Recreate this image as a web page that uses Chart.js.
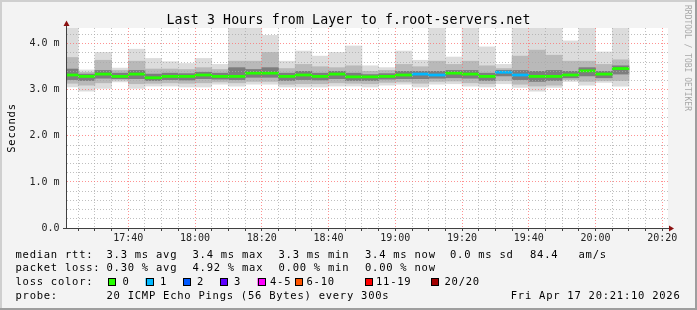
<!DOCTYPE html>
<html>
<head>
<meta charset="utf-8">
<script src="https://cdn.jsdelivr.net/npm/chart.js@4.4.0/dist/chart.umd.min.js"></script>
<style>
  html, body { margin: 0; padding: 0; background: #f3f3f3; }
</style>
</head>
<body>
<canvas id="myChart" width="697" height="310"></canvas>
<script>
// 5 minute bins (start time of each step)
const binTimes = ["17:20","17:25","17:30","17:35","17:40","17:45","17:50","17:55",
  "18:00","18:05","18:10","18:15","18:20","18:25","18:30","18:35","18:40","18:45",
  "18:50","18:55","19:00","19:05","19:10","19:15","19:20","19:25","19:30","19:35",
  "19:40","19:45","19:50","19:55","20:00","20:05"]

// rtt in ms, smoke bands
const rttMax  = [4.34,3.43,3.81,3.47,3.88,3.68,3.61,3.57,3.68,3.55,4.34,4.34,4.18,3.62,3.84,3.73,3.81,
                 3.95,3.52,3.48,3.84,3.64,4.34,3.71,4.34,3.93,3.55,4.34,4.34,4.34,4.06,4.34,3.82,4.34]
const rttHi2  = [3.70,3.38,3.64,3.42,3.62,3.45,3.45,3.44,3.48,3.44,3.62,3.62,3.81,3.46,3.55,3.50,3.48,
                 3.52,3.40,3.42,3.55,3.50,3.62,3.55,3.62,3.52,3.46,3.73,3.86,3.75,3.62,3.62,3.55,3.65]
const rttHi1  = [3.45,3.34,3.42,3.36,3.42,3.34,3.36,3.35,3.38,3.36,3.48,3.44,3.48,3.36,3.40,3.36,3.40,
                 3.36,3.33,3.35,3.40,3.40,3.40,3.42,3.42,3.36,3.42,3.42,3.40,3.42,3.40,3.48,3.40,3.52]
const rttMedian = [3.32,3.29,3.34,3.29,3.34,3.26,3.29,3.29,3.32,3.29,3.29,3.36,3.36,3.29,3.32,3.29,3.34,
                 3.28,3.28,3.29,3.32,3.34,3.32,3.36,3.34,3.29,3.38,3.32,3.29,3.29,3.32,3.41,3.34,3.46]
const rttLo1  = [3.22,3.20,3.25,3.24,3.24,3.20,3.22,3.21,3.24,3.23,3.22,3.27,3.27,3.20,3.22,3.21,3.24,
                 3.20,3.20,3.23,3.24,3.24,3.25,3.26,3.25,3.20,3.30,3.22,3.18,3.20,3.26,3.30,3.26,3.34]
const rttLo2  = [3.14,3.10,3.15,3.21,3.13,3.14,3.15,3.14,3.15,3.17,3.15,3.18,3.18,3.12,3.13,3.13,3.15,
                 3.14,3.13,3.16,3.17,3.14,3.18,3.19,3.15,3.13,3.20,3.12,3.08,3.10,3.22,3.18,3.20,3.20]
const rttMin  = [3.06,2.97,3.03,3.17,3.03,3.08,3.08,3.06,3.06,3.12,3.08,3.12,3.12,3.06,3.06,3.06,3.08,
                 3.08,3.06,3.10,3.12,3.06,3.12,3.13,3.08,3.06,3.13,3.05,2.97,3.05,3.18,3.10,3.16,3.08]
// lost pings per step (of 20)
const lossCount = [0,0,0,0,0,0,0,0,0,0,0,0,0,0,0,0,0,0,0,0,0,1,1,0,0,0,1,1,0,0,0,0,0,0]

const lossLabels = ["0","1","2","3","4-5","6-10","11-19","20/20"]
const lossColors = ["#26ff00","#00b8ff","#0059ff","#5e00ff","#ff00ff","#ff5500","#ff0000","#a10000"]

const xTickLabels = ["17:40","18:00","18:20","18:40","19:00","19:20","19:40","20:00","20:20"]
const yTickLabels = ["0.0","1.0 m","2.0 m","3.0 m","4.0 m"]

const titleText = "Last 3 Hours from Layer to f.root-servers.net"
const rttStats  = ["3.3 ms avg","3.4 ms max","3.3 ms min","3.4 ms now","0.0 ms sd","84.4","am/s"]
const lossStats = ["0.30 % avg","4.92 % max","0.00 % min","0.00 % now"]
const probeText = "20 ICMP Echo Pings (56 Bytes) every 300s"
const stampText = "Fri Apr 17 20:21:10 2026"

// minutes after 17:00
function toMin(t) {
    var p = t.split(":")
    return (parseInt(p[0]) - 17) * 60 + parseInt(p[1])
}

const X_MIN = 21.63, X_MAX = 201.7
const MONO = '"DejaVu Sans Mono", monospace'

function lossIndex(n) {
    if (n <= 3) return n
    if (n <= 5) return 4
    if (n <= 10) return 5
    if (n <= 19) return 6
    return 7
}

function band(lo, hi) {
    return binTimes.map(function (t, i) { return { x: toMin(t) + 2.5, y: [lo[i], hi[i]] } })
}

const medianBars = binTimes.map(function (t, i) {
    return { x: toMin(t) + 2.5, y: [rttMedian[i] - 0.023, rttMedian[i] + 0.023] }
})

const majorGrid = "rgba(255,110,110,0.75)"
const minorGrid = "rgba(170,170,170,0.75)"

const decor = {
    id: "decor",
    beforeDraw(chart) {
        const ctx = chart.ctx, a = chart.chartArea
        ctx.save()
        ctx.fillStyle = "#f3f3f3"; ctx.fillRect(0, 0, 697, 310)
        ctx.fillStyle = "#cfcfcf"; ctx.fillRect(0, 0, 697, 2); ctx.fillRect(0, 0, 2, 310)
        ctx.fillStyle = "#9e9e9e"; ctx.fillRect(0, 308, 697, 2); ctx.fillRect(695, 0, 2, 310)
        ctx.fillStyle = "#ffffff"; ctx.fillRect(a.left, a.top, a.right - a.left, a.bottom - a.top)
        ctx.restore()
    },
    afterDraw(chart) {
        const ctx = chart.ctx, a = chart.chartArea
        ctx.save()
        // axes + arrows
        ctx.strokeStyle = "#404040"; ctx.lineWidth = 1
        ctx.beginPath()
        ctx.moveTo(a.left - 0.5, a.bottom + 1); ctx.lineTo(a.left - 0.5, 24)
        ctx.moveTo(a.left - 4, a.bottom + 0.5); ctx.lineTo(a.right + 4, a.bottom + 0.5)
        ctx.stroke()
        ctx.fillStyle = "#8b1111"
        ctx.beginPath()
        ctx.moveTo(a.left - 0.5, 20.5); ctx.lineTo(a.left - 3.5, 26); ctx.lineTo(a.left + 2.5, 26); ctx.fill()
        ctx.beginPath()
        ctx.moveTo(a.right + 6, a.bottom + 0.5); ctx.lineTo(a.right + 1, a.bottom - 2.5); ctx.lineTo(a.right + 1, a.bottom + 3.5); ctx.fill()

        // title
        ctx.fillStyle = "#000"
        ctx.font = "13.2px " + MONO
        ctx.letterSpacing = "0.15px"
        ctx.textAlign = "center"; ctx.textBaseline = "alphabetic"
        ctx.fillText(titleText, 348.5, 24)

        // legend block
        ctx.font = "10.5px " + MONO
        ctx.letterSpacing = "0.75px"
        ctx.textAlign = "left"
        const rows = [257.5, 271.3, 285, 298.8]
        ctx.fillText("median rtt:", 15.5, rows[0])
        const rttX = [106.5, 192.5, 278.5, 365, 450, 530, 578.5]
        rttStats.forEach(function (s, i) { ctx.fillText(s, rttX[i], rows[0]) })
        ctx.fillText("packet loss:", 15.5, rows[1])
        lossStats.forEach(function (s, i) { ctx.fillText(s, rttX[i], rows[1]) })
        ctx.fillText("loss color:", 15.5, rows[2])
        const boxX = [108, 145.5, 183, 220, 257.5, 295, 365, 431]
        const labX = [122.5, 160, 197, 234, 270, 306.5, 376, 444.5]
        lossLabels.forEach(function (s, i) {
            ctx.fillStyle = lossColors[i]; ctx.fillRect(boxX[i], 278, 8, 8)
            ctx.strokeStyle = "#000"; ctx.strokeRect(Math.round(boxX[i]) + 0.5, 278.5, 7, 7)
            ctx.fillStyle = "#000"; ctx.fillText(s, labX[i], rows[2])
        })
        ctx.fillText("probe:", 15.5, rows[3])
        ctx.fillText(probeText, 106.5, rows[3])
        ctx.textAlign = "right"
        ctx.fillText(stampText, 680.5, rows[3])

        // y axis title
        ctx.textAlign = "center"
        ctx.save()
        ctx.translate(14.5, 128); ctx.rotate(-Math.PI / 2)
        ctx.fillText("Seconds", 0, 0)
        ctx.restore()

        // watermark
        ctx.save()
        ctx.font = "8px " + MONO
        ctx.letterSpacing = "0px"
        ctx.fillStyle = "#a8a8a8"; ctx.textAlign = "left"
        ctx.translate(685, 5); ctx.rotate(Math.PI / 2)
        ctx.fillText("RRDTOOL / TOBI OETIKER", 0, 0)
        ctx.restore()
        ctx.restore()
    }
}

var ctx = document.getElementById("myChart").getContext("2d")
var chart = new Chart(ctx, {
    type: "bar",
    data: {
        datasets: [
            { label: "outer", data: band(rttMin, rttMax), backgroundColor: "#dcdcdc", order: 4 },
            { label: "mid", data: band(rttLo2, rttHi2), backgroundColor: "#b9b9b9", order: 3 },
            { label: "inner", data: band(rttLo1, rttHi1), backgroundColor: "#7d7d7d", order: 2 },
            { label: "median", data: medianBars, order: 1,
              backgroundColor: lossCount.map(function (n) { return lossColors[lossIndex(n)] }) }
        ]
    },
    options: {
        responsive: false,
        animation: false,
        events: [],
        layout: { padding: { top: 28, right: 29, bottom: 0, left: 0 } },
        datasets: { bar: { grouped: false, barPercentage: 1, categoryPercentage: 1, borderWidth: 0 } },
        plugins: { legend: { display: false }, title: { display: false }, tooltip: { enabled: false } },
        scales: {
            x: {
                type: "linear", min: X_MIN, max: X_MAX, offset: false,
                afterBuildTicks: function (scale) {
                    var t = []
                    for (var m = 25; m <= 200; m += 5) t.push({ value: m })
                    scale.ticks = t
                },
                afterFit: function (scale) { scale.height = 82 },
                ticks: {
                    autoSkip: false, maxRotation: 0, padding: 1, color: "#222",
                    font: { family: MONO, size: 10 },
                    callback: function (v) {
                        var lab = xTickLabels.find(function (s) { return toMin(s) === v })
                        return lab || ""
                    }
                },
                grid: {
                    offset: false, z: 1, lineWidth: 1, tickLength: 3,
                    color: function (c) { return c.tick && c.tick.value % 20 === 0 ? majorGrid : minorGrid },
                    tickColor: "#404040"
                },
                border: { display: false, dash: [1, 2] }
            },
            y: {
                min: 0, max: 4.34,
                afterBuildTicks: function (scale) {
                    var t = []
                    for (var k = 0; k <= 21; k++) t.push({ value: k / 5 })
                    scale.ticks = t
                },
                afterFit: function (scale) { scale.width = 67 },
                ticks: {
                    autoSkip: false, padding: 7.5, color: "#222",
                    font: { family: MONO, size: 10 },
                    callback: function (v) {
                        var r = Math.round(v)
                        return Math.abs(v - r) < 1e-6 ? yTickLabels[r] : ""
                    }
                },
                grid: {
                    z: 1, lineWidth: 1, drawTicks: false,
                    color: function (c) {
                        if (!c.tick || c.tick.value === 0) return "rgba(0,0,0,0)"
                        return Math.abs(c.tick.value - Math.round(c.tick.value)) < 1e-6 ? majorGrid : minorGrid
                    }
                },
                border: { display: false, dash: [1, 2] }
            }
        }
    },
    plugins: [decor]
})
</script>
</body>
</html>
